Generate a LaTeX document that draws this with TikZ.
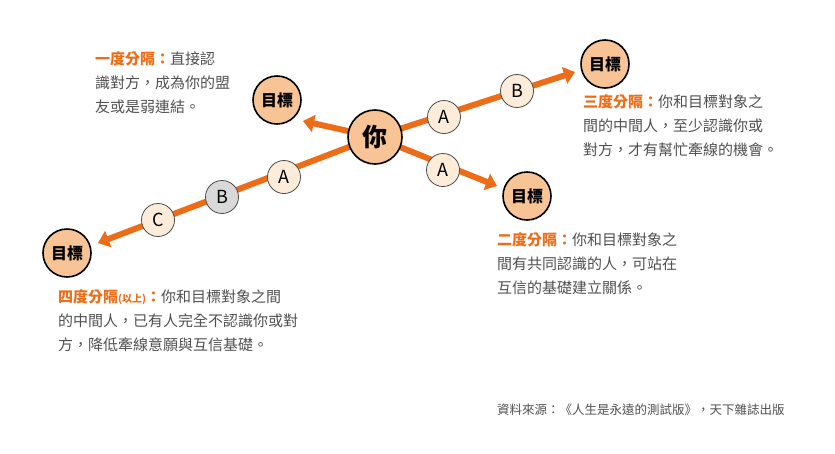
\documentclass[tikz,border=0pt]{standalone}
\usepackage{fontspec}
\setmainfont{Noto Sans CJK TC}
\usetikzlibrary{arrows.meta}
\definecolor{lineorange}{RGB}{236,108,24}
\definecolor{nodefill}{RGB}{248,196,150}
\definecolor{smallfill}{RGB}{253,236,218}
\definecolor{textgray}{RGB}{80,80,80}
\tikzset{
  bignode/.style = {circle, draw = black, line width = 1.6pt, fill = nodefill, minimum size = 48pt, inner sep = 0pt, font = \fontsize{16}{16}\selectfont\bfseries},
  younode/.style = {bignode, minimum size = 54pt, font = \fontsize{25}{25}\selectfont\bfseries},
  stepnode/.style = {circle, draw = black!70, line width = 0.8pt, fill = smallfill, minimum size = 33pt, inner sep = 0pt, font = \fontsize{18}{18}\selectfont},
  link/.style = {line width = 6pt, draw = lineorange},
  linkarrow/.style = {link, -{Triangle[length = 11pt, width = 17pt]}},
  desc/.style = {anchor = north west, align = left, text = textgray, font = \fontsize{15}{24}\selectfont, inner sep = 0pt},
  head/.style = {text = lineorange, font = \bfseries}
}
\begin{document}
\begin{tikzpicture}[x = 1pt, y = -1pt]
    \useasboundingbox (0,0) rectangle (835,453);

    % connectors first
    \coordinate (tipul) at (303,121);
    \coordinate (tipll) at (98,243);
    \coordinate (tipur) at (575,72);
    \coordinate (tiplr) at (497,186);
    \coordinate (you) at (375,137);
    \draw [linkarrow] (you) -- (tipll);
    \draw [linkarrow] (you) -- (tipur);
    \draw [linkarrow] (you) -- (tipul);
    \draw [linkarrow] (you) -- (tiplr);

    % nodes
    \node [younode] (me) at (you) {你};
    \node [bignode] (goalul) at (277,100) {目標};
    \node [bignode] (goalur) at (605,64) {目標};
    \node [bignode] (goallr) at (527,196) {目標};
    \node [bignode] (goalll) at (67,253) {目標};

    \node [stepnode] (aur) at (444,117) {A};
    \node [stepnode] (bur) at (517,91) {B};
    \node [stepnode] (alr) at (443,170) {A};
    \node [stepnode] (all) at (284,177) {A};
    \node [stepnode, fill = black!15] (bll) at (222,197) {B};
    \node [stepnode] (cll) at (158,220) {C};

    % texts
    \node [desc] (textone) at (95,51) {{\color{lineorange}\bfseries 一度分隔：}直接認\\識對方，成為你的盟\\友或是弱連結。};
    \node [desc] (textthree) at (583,94) {{\color{lineorange}\bfseries 三度分隔：}你和目標對象之\\間的中間人，至少認識你或\\對方，才有幫忙牽線的機會。};
    \node [desc] (texttwo) at (497,232) {{\color{lineorange}\bfseries 二度分隔：}你和目標對象之\\間有共同認識的人，可站在\\互信的基礎建立關係。};
    \node [desc] (textfour) at (58,289) {{\color{lineorange}\bfseries 四度分隔{\fontsize{10}{10}\selectfont(以上)}：}你和目標對象之間\\的中間人，已有人完全不認識你或對\\方，降低牽線意願與互信基礎。};
    \node [anchor = west, inner sep = 0pt, text = textgray, font = \fontsize{12.5}{13}\selectfont] (source) at (497,410) {資料來源：《人生是永遠的測試版》，天下雜誌出版};
\end{tikzpicture}
\end{document}
